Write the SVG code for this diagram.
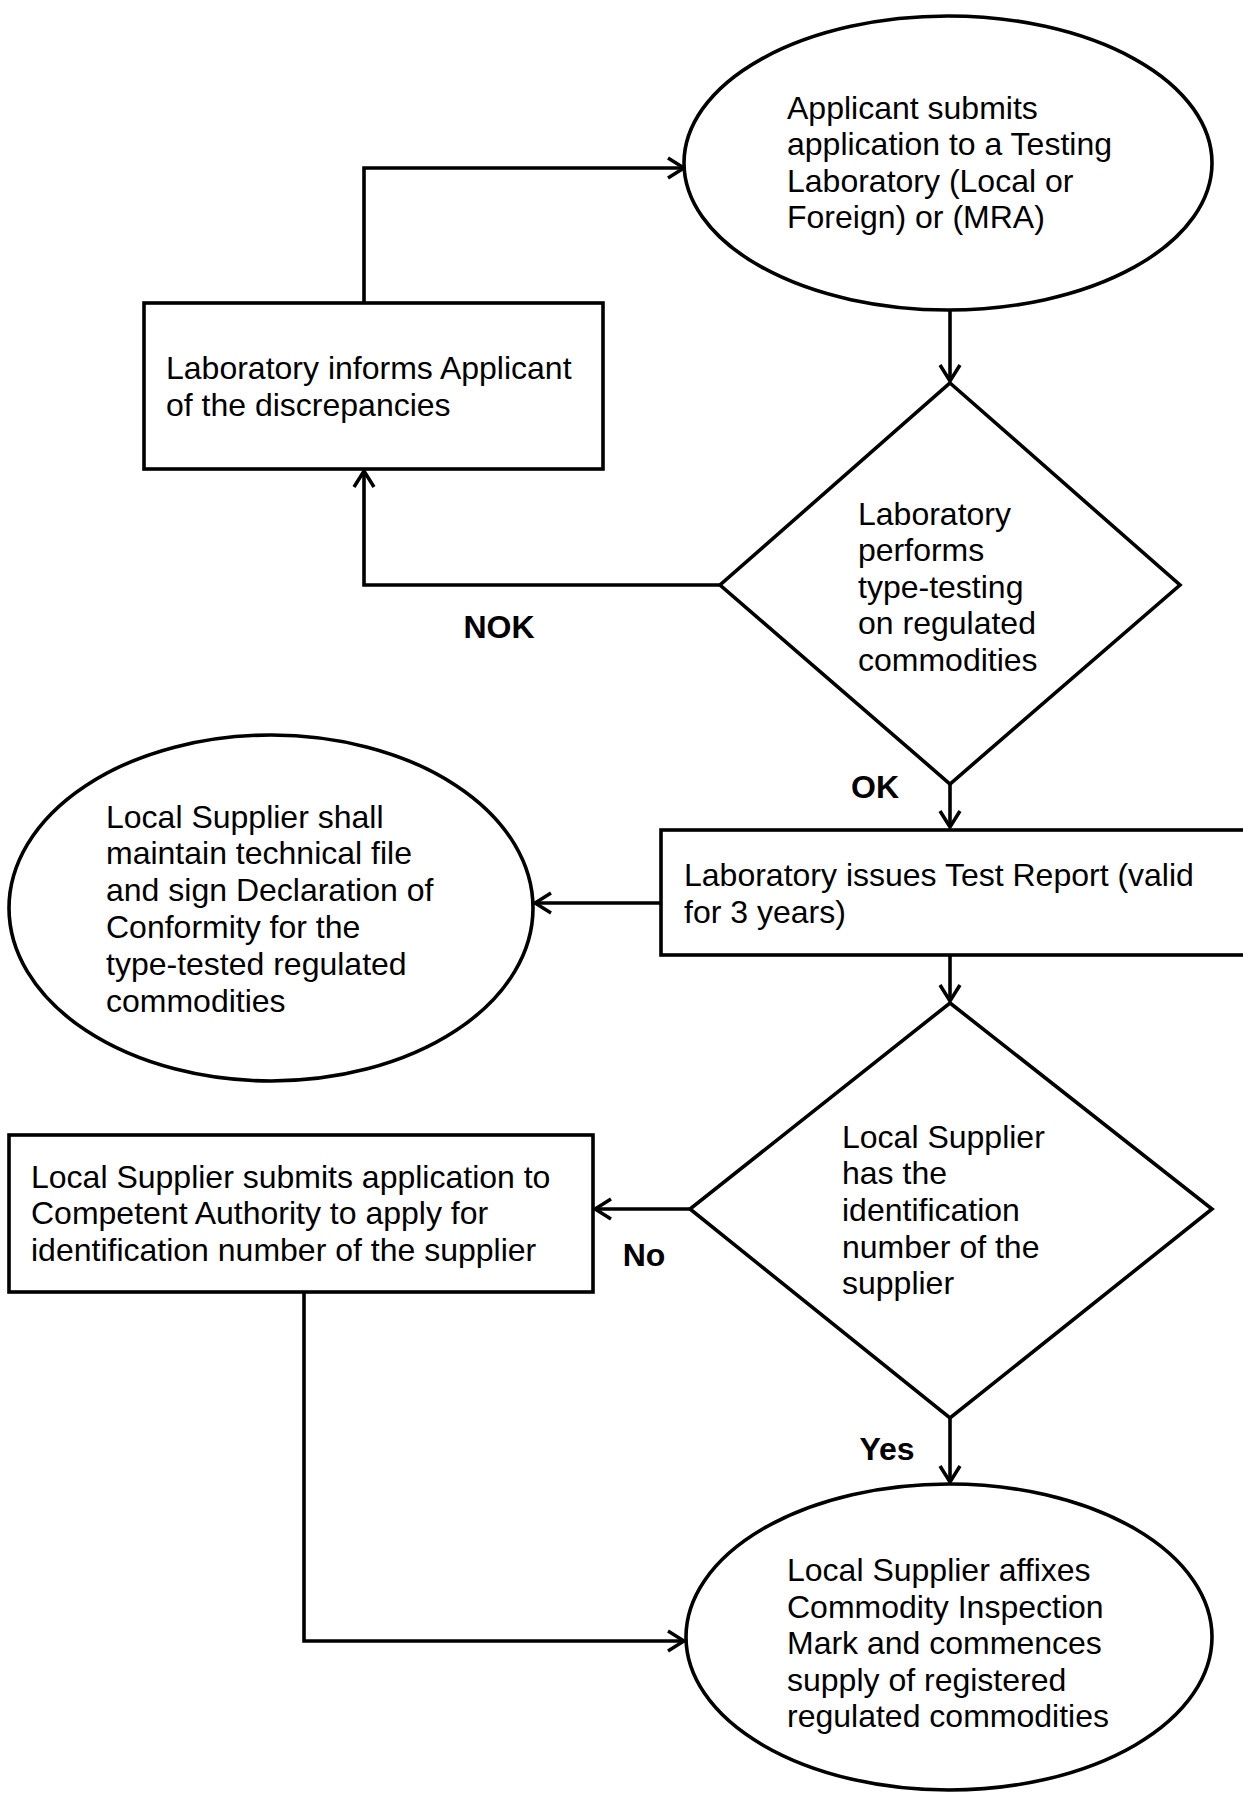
<svg xmlns="http://www.w3.org/2000/svg" width="1243" height="1793" viewBox="0 0 1243 1793">
<style>
.shape{fill:#fff;stroke:#000;stroke-width:3.6}
.conn{fill:none;stroke:#000;stroke-width:3.6}
.t{font-family:"Liberation Sans",Arial,sans-serif;font-size:32px;fill:#000}
.lbl{font-family:"Liberation Sans",Arial,sans-serif;font-size:32px;font-weight:bold;fill:#000;text-anchor:middle}
</style>
<defs>
<marker id="arr" viewBox="0 0 20 24" refX="18" refY="12" markerWidth="20" markerHeight="24" markerUnits="userSpaceOnUse" orient="auto">
<path d="M2,2 L18,12 L2,22" fill="none" stroke="#000" stroke-width="3.5"/>
</marker>
</defs>
<rect width="1243" height="1793" fill="#fff"/>
<g id="connectors">
<path class="conn" d="M364,303 V168 H684" marker-end="url(#arr)"/>
<path class="conn" d="M950,310 V381" marker-end="url(#arr)"/>
<path class="conn" d="M720,585 H364 V471" marker-end="url(#arr)"/>
<path class="conn" d="M950,784 V827" marker-end="url(#arr)"/>
<path class="conn" d="M661,903 H535" marker-end="url(#arr)"/>
<path class="conn" d="M950,955 V1001" marker-end="url(#arr)"/>
<path class="conn" d="M690,1209 H595" marker-end="url(#arr)"/>
<path class="conn" d="M304,1292 V1641 H684" marker-end="url(#arr)"/>
<path class="conn" d="M950,1418 V1482" marker-end="url(#arr)"/>
</g>
<g id="n1">
<ellipse class="shape" cx="948" cy="163" rx="264" ry="147"/>
<text class="t" x="787" y="119">Applicant submits</text>
<text class="t" x="787" y="155">application to a Testing</text>
<text class="t" x="787" y="192">Laboratory (Local or</text>
<text class="t" x="787" y="228">Foreign) or (MRA)</text>
</g>
<g id="n2">
<rect class="shape" x="144" y="303" width="459" height="166"/>
<text class="t" x="166" y="379">Laboratory informs Applicant</text>
<text class="t" x="166" y="416">of the discrepancies</text>
</g>
<g id="n3">
<polygon class="shape" points="950,383 1180,585 950,784 720,585"/>
<text class="t" x="858" y="525">Laboratory</text>
<text class="t" x="858" y="561">performs</text>
<text class="t" x="858" y="598">type-testing</text>
<text class="t" x="858" y="634">on regulated</text>
<text class="t" x="858" y="671">commodities</text>
</g>
<g id="n4">
<rect class="shape" x="661" y="830" width="590" height="125"/>
<text class="t" x="684" y="886">Laboratory issues Test Report (valid</text>
<text class="t" x="684" y="923">for 3 years)</text>
</g>
<g id="n5">
<ellipse class="shape" cx="271" cy="908" rx="262" ry="173"/>
<text class="t" x="106" y="828">Local Supplier shall</text>
<text class="t" x="106" y="864">maintain technical file</text>
<text class="t" x="106" y="901">and sign Declaration of</text>
<text class="t" x="106" y="938">Conformity for the</text>
<text class="t" x="106" y="975">type-tested regulated</text>
<text class="t" x="106" y="1012">commodities</text>
</g>
<g id="n6">
<polygon class="shape" points="950,1003 1212,1209 950,1418 690,1209"/>
<text class="t" x="842" y="1148">Local Supplier</text>
<text class="t" x="842" y="1184">has the</text>
<text class="t" x="842" y="1221">identification</text>
<text class="t" x="842" y="1258">number of the</text>
<text class="t" x="842" y="1294">supplier</text>
</g>
<g id="n7">
<rect class="shape" x="9" y="1135" width="584" height="157"/>
<text class="t" x="31" y="1188">Local Supplier submits application to</text>
<text class="t" x="31" y="1224">Competent Authority to apply for</text>
<text class="t" x="31" y="1261">identification number of the supplier</text>
</g>
<g id="n8">
<ellipse class="shape" cx="949" cy="1637" rx="263" ry="153"/>
<text class="t" x="787" y="1581">Local Supplier affixes</text>
<text class="t" x="787" y="1618">Commodity Inspection</text>
<text class="t" x="787" y="1654">Mark and commences</text>
<text class="t" x="787" y="1691">supply of registered</text>
<text class="t" x="787" y="1727">regulated commodities</text>
</g>
<g id="labels">
<text class="lbl" x="499" y="638">NOK</text>
<text class="lbl" x="875" y="798">OK</text>
<text class="lbl" x="644" y="1266">No</text>
<text class="lbl" x="887" y="1460">Yes</text>
</g>
</svg>
